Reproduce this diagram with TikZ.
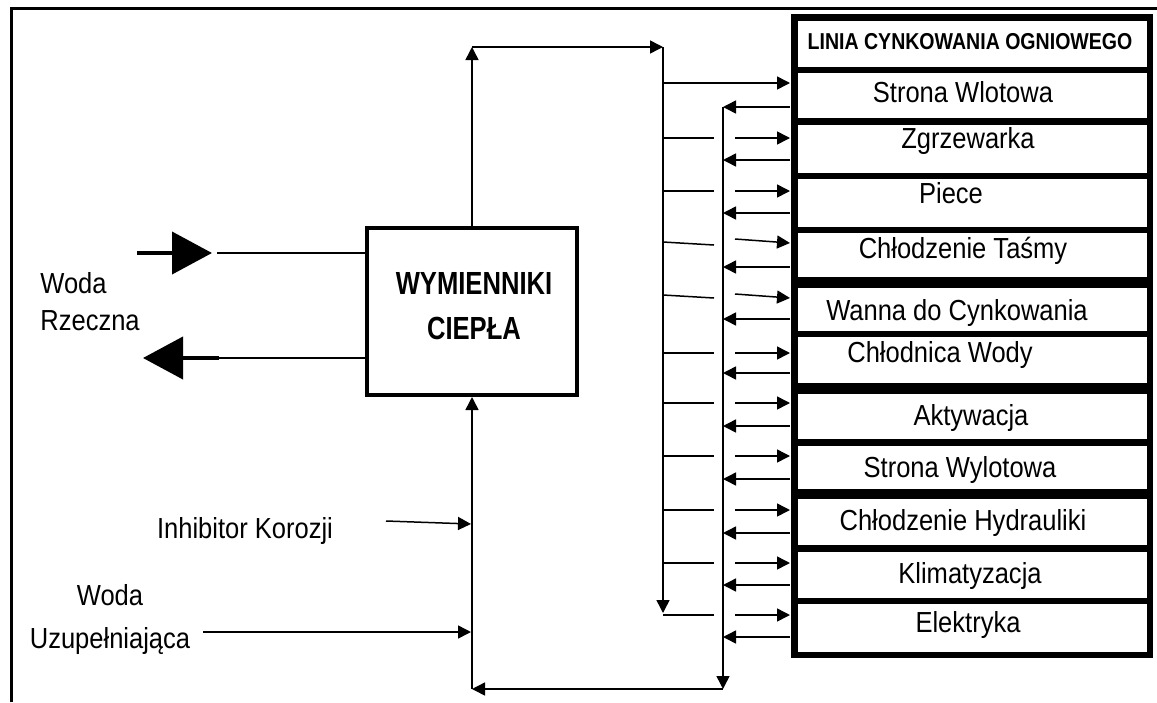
\documentclass[tikz,border=0pt]{standalone}
\usepackage{fontspec}
\setmainfont{Liberation Sans}[FakeStretch=0.88]
\newfontfamily\titlefont{Liberation Sans}[FakeStretch=0.85]
\newfontfamily\hxfont{Liberation Sans}[FakeStretch=0.8]
\usetikzlibrary{arrows.meta,positioning}

\begin{document}
\begin{tikzpicture}[x=0.5pt,y=-0.5pt,
  pipe/.style={line width=0.75pt},
  flow/.style={pipe,-{Triangle[length=6.5pt,width=6.5pt]}},
  river/.style={line width=2pt,-{Triangle[length=20pt,width=21pt]}},
  rowbox/.style={line width=3.25pt},
  lbl/.style={font=\fontsize{14.5pt}{17pt}\selectfont,inner sep=0pt}]
  \useasboundingbox (0,0) rectangle (1157,702);
  \draw[line width=1.5pt] (11,702) -- (11,8) -- (1157,8);
  % heat exchanger and river water
  \node[draw,line width=2pt,minimum width=105pt,minimum height=83.5pt,inner sep=0pt] (hx) at (472,311.5) {};
  \node[align=center,inner sep=0pt,font=\hxfont\bfseries\fontsize{16pt}{22.5pt}\selectfont] (hxtext) at (474,306) {WYMIENNIKI\\CIEPŁA};
  \node[lbl,align=left,anchor=west,font=\fontsize{14.5pt}{18.5pt}\selectfont] (river) at (40,302) {Woda\\Rzeczna};
  \coordinate (inA) at (137,253);
  \coordinate (inB) at (212,253);
  \coordinate (inC) at (217,253);
  \coordinate (outA) at (219,358);
  \coordinate (outB) at (143,358);
  \draw[river] (inA) -- (inB);
  \draw[pipe] (inC) -- (hx.west |- inC);
  \draw[pipe] (hx.west |- outA) -- (outA);
  \draw[river] (outA) -- (outB);
  % supply and return headers
  \coordinate (hxTop) at (468,47);
  \coordinate (supTop) at (663,47);
  \coordinate (supEnd) at (663,613);
  \coordinate (retTop) at (723,107);
  \coordinate (retEnd) at (723,689);
  \draw[flow] (hx.north) -- (hx.north |- hxTop);
  \draw[flow] (hx.north |- hxTop) -- (supTop);
  \draw[flow] (supTop) -- (supEnd);
  \draw[flow] (retTop) -- (retEnd);
  \draw[flow] (retEnd) -- (hx.south |- retEnd);
  \draw[flow] (hx.south |- retEnd) -- (hx.south);
  % additions
  \node[lbl] (inhib) at (245,531) {Inhibitor Korozji};
  \coordinate (inhA) at (386,521);
  \coordinate (inhB) at (471,524);
  \draw[flow] (inhA) -- (inhB);
  \node[lbl,align=center,font=\fontsize{14.5pt}{21.5pt}\selectfont] (makeup) at (110,620) {Woda\\Uzupełniająca};
  \coordinate (mkA) at (203,632);
  \coordinate (mkB) at (471,632);
  \draw[flow] (mkA) -- (mkB);
  % galvanizing line
  \foreach \top/\bot in {17.5/70,70/121.5,121.5/176,176/230,230/280,285/334,334/386,
      391/442.5,442.5/492,496/548.5,548.5/601,601/655}
    \draw[rowbox] (794.5,\top) rectangle (1150,\bot);
  \node[anchor=base,inner sep=0pt,font=\titlefont\bfseries\fontsize{11.5pt}{13pt}\selectfont] (line) at (970,49) {LINIA CYNKOWANIA OGNIOWEGO};
  \foreach \nm/\xx/\yy/\txt in {wlot/963/102/Strona Wlotowa,zgrz/968/148/Zgrzewarka,
      piece/951/203/Piece,tasma/963/258/Chłodzenie Taśmy,wanna/957/320/Wanna do Cynkowania,
      chlod/940/362/Chłodnica Wody,aktyw/971/425/Aktywacja,wylot/960/477/Strona Wylotowa,
      hydr/963/530/Chłodzenie Hydrauliki,klim/970/583/Klimatyzacja,elek/968/632/Elektryka}
    \node[lbl,anchor=base] (\nm) at (\xx,\yy) {\txt};
  % branches to and from the line
  \draw[flow] (supTop |- 0,83) -- (790,83);
  \draw[flow] (790,107) -- (retTop);
  \foreach \sa/\sb/\sc/\sd/\r in {138/138/138/138/160,191/191/191/191/213,242/245/239/243/267,
      295/298/294/298/319,353/353/353/353/373,403/403/403/403/426,456/456/456/456/479,
      510/510/510/510/533,563/563/563/563/585,615/615/615/615/637} {
    \draw[pipe] (663,\sa) -- (714,\sb);
    \draw[flow] (735,\sc) -- (790,\sd);
    \draw[flow] (790,\r) -- (723,\r);
  }
\end{tikzpicture}
\end{document}
